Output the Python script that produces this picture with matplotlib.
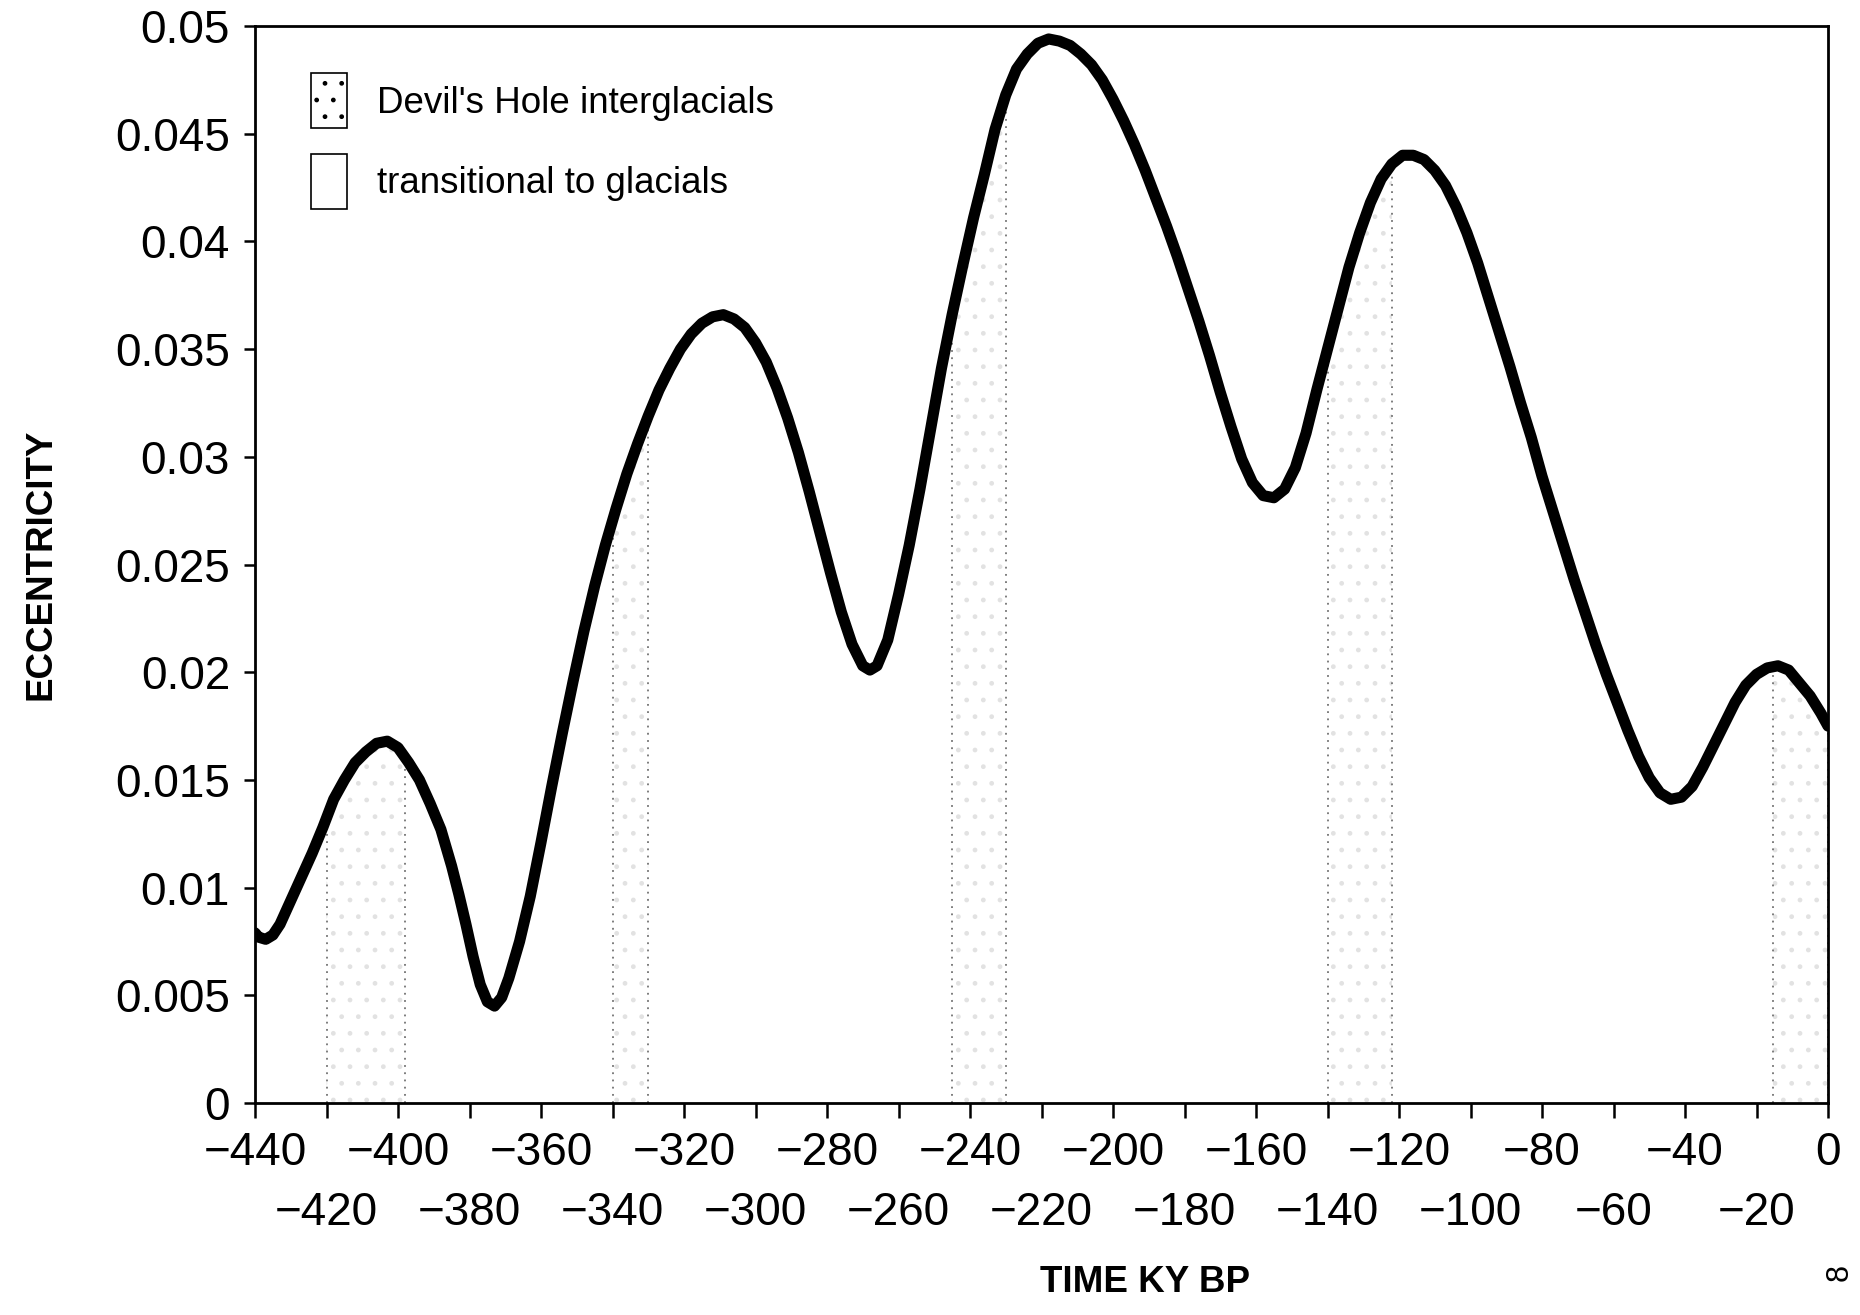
import numpy as np
import matplotlib
matplotlib.use("Agg")
import matplotlib.pyplot as plt
from matplotlib.patches import Patch
from matplotlib.ticker import FixedLocator, FuncFormatter

# orbital eccentricity, last 440 ky
time_ky = np.array([-440, -439, -437, -435, -433, -430, -427, -424, -421, -418,
                    -415, -412, -409, -406, -403, -400, -397, -394, -391, -388,
                    -385, -383, -381, -379, -377, -375, -373, -371, -369, -366,
                    -363, -360, -357, -354, -351, -348, -345, -342, -339, -336,
                    -333, -330, -327, -324, -321, -318, -315, -312, -309, -306,
                    -303, -300, -297, -294, -291, -288, -285, -282, -279, -276,
                    -273, -270, -268, -266, -263, -260, -257, -254, -251, -248,
                    -245, -242, -239, -236, -233, -230, -227, -224, -221, -218,
                    -215, -212, -209, -206, -203, -200, -197, -194, -191, -188,
                    -185, -182, -179, -176, -173, -170, -167, -164, -161, -158,
                    -155, -152, -149, -146, -143, -140, -137, -134, -131, -128,
                    -125, -122, -119, -116, -113, -110, -107, -104, -101, -98,
                    -95, -92, -89, -86, -83, -80, -77, -74, -71, -68,
                    -65, -62, -59, -56, -53, -50, -47, -44, -41, -38,
                    -35, -32, -29, -26, -23, -20, -17, -14, -11, -8,
                    -5, -2, 0])
eccentricity = np.array([0.0079, 0.0077, 0.0076, 0.0078, 0.0083, 0.0094, 0.0105, 0.0116, 0.0128, 0.0141,
                         0.0150, 0.0158, 0.0163, 0.0167, 0.0168, 0.0165, 0.0158, 0.0150, 0.0139, 0.0127,
                         0.0110, 0.0097, 0.0083, 0.0068, 0.0055, 0.0047, 0.0045, 0.0049, 0.0058, 0.0075,
                         0.0096, 0.0121, 0.0147, 0.0172, 0.0196, 0.0219, 0.0240, 0.0259, 0.0276, 0.0292,
                         0.0306, 0.0319, 0.0331, 0.0341, 0.0350, 0.0357, 0.0362, 0.0365, 0.0366, 0.0364,
                         0.0360, 0.0353, 0.0344, 0.0332, 0.0318, 0.0302, 0.0284, 0.0265, 0.0246, 0.0228,
                         0.0213, 0.0203, 0.0201, 0.0203, 0.0215, 0.0236, 0.0259, 0.0285, 0.0313, 0.0341,
                         0.0366, 0.0389, 0.0411, 0.0431, 0.0452, 0.0468, 0.0480, 0.0487, 0.0492, 0.0494,
                         0.0493, 0.0491, 0.0487, 0.0482, 0.0475, 0.0466, 0.0456, 0.0445, 0.0433, 0.0420,
                         0.0407, 0.0393, 0.0378, 0.0363, 0.0347, 0.0330, 0.0314, 0.0299, 0.0288, 0.0282,
                         0.0281, 0.0285, 0.0295, 0.0311, 0.0331, 0.0350, 0.0369, 0.0388, 0.0404, 0.0418,
                         0.0429, 0.0436, 0.0440, 0.0440, 0.0438, 0.0433, 0.0426, 0.0416, 0.0404, 0.0390,
                         0.0374, 0.0358, 0.0342, 0.0325, 0.0309, 0.0291, 0.0275, 0.0259, 0.0243, 0.0228,
                         0.0213, 0.0199, 0.0186, 0.0173, 0.0161, 0.0151, 0.0144, 0.0141, 0.0142, 0.0147,
                         0.0156, 0.0166, 0.0176, 0.0186, 0.0194, 0.0199, 0.0202, 0.0203, 0.0201, 0.0195,
                         0.0189, 0.0181, 0.0175])

# interglacial bands (start, end) in ky
band_start = [-420, -340, -245, -140, -15.5]
band_end = [-398, -330, -230, -122, 0]

legend_labels = ["Devil's Hole interglacials", "transitional to glacials"]

tick_font = ["Liberation Sans", "DejaVu Sans"]
text_font = ["Liberation Sans", "DejaVu Sans"]
plt.rcParams["hatch.linewidth"] = 1.0

fig = plt.figure(figsize=(18.6, 13.15), dpi=100)
ax = fig.add_axes([0.1371, 0.1612, 0.8457, 0.819])

for a, b in zip(band_start, band_end):
    inside = (time_ky > a) & (time_ky < b)
    xs = np.concatenate([[a], time_ky[inside], [b]])
    ys = np.interp(xs, time_ky, eccentricity)
    ax.fill_between(xs, 0, ys, facecolor="none", hatch=".", edgecolor="#e2e2e2",
                    linewidth=0, zorder=1)
    ax.vlines([a, b], 0, [ys[0], ys[-1]], colors="0.45", linestyles=(0, (1, 3)),
              linewidth=1.3, zorder=2)

ax.plot(time_ky, eccentricity, color="black", lw=8, solid_joinstyle="round",
        solid_capstyle="round", zorder=3)

ax.set_xlim(-440, 0)
ax.set_ylim(0, 0.05)

# two rows of x labels: major ticks every 40, minor ticks in between
ax.xaxis.set_major_locator(FixedLocator(np.arange(-440, 1, 40)))
ax.xaxis.set_minor_locator(FixedLocator(np.arange(-420, 0, 40)))
minus = lambda v, p: f"{v:g}".replace("-", "\u2212")
ax.xaxis.set_major_formatter(FuncFormatter(minus))
ax.xaxis.set_minor_formatter(FuncFormatter(minus))
ax.set_yticks(np.arange(0, 0.0501, 0.005))
ax.yaxis.set_major_formatter(FuncFormatter(lambda v, p: f"{round(v, 3):g}"))

ax.tick_params(axis="x", which="both", direction="out", length=11, width=1.8,
               labelsize=33, pad=9)
ax.tick_params(axis="x", which="minor", pad=52)
ax.tick_params(axis="y", direction="out", length=8, width=1.8, labelsize=33, pad=10)
for lab in ax.get_xticklabels(which="both") + ax.get_yticklabels():
    lab.set_family(tick_font)

for s in ax.spines.values():
    s.set_linewidth(2)
    s.set_color("black")

ax.set_ylabel("ECCENTRICITY", fontsize=26.5, fontweight="bold", family=text_font)
ax.yaxis.set_label_coords(-0.125, 0.5)
ax.set_xlabel("TIME KY BP", fontsize=26.5, fontweight="bold", family=text_font)
ax.xaxis.set_label_coords(0.566, -0.150)

handles = [Patch(facecolor="white", edgecolor="black", hatch=".", linewidth=1.2),
           Patch(facecolor="white", edgecolor="black", linewidth=1.2)]
leg = ax.legend(handles, legend_labels, loc="upper left", bbox_to_anchor=(0.0356, 0.956),
                frameon=False, borderpad=0, borderaxespad=0, handlelength=0.98,
                handleheight=1.92, handletextpad=0.8, labelspacing=0.7,
                prop={"family": text_font, "size": 26.5})

fig.text(0.989, 0.032, "8", rotation=90, fontsize=22, family=text_font,
         ha="center", va="center")

fig.savefig("out.png", dpi=100)
